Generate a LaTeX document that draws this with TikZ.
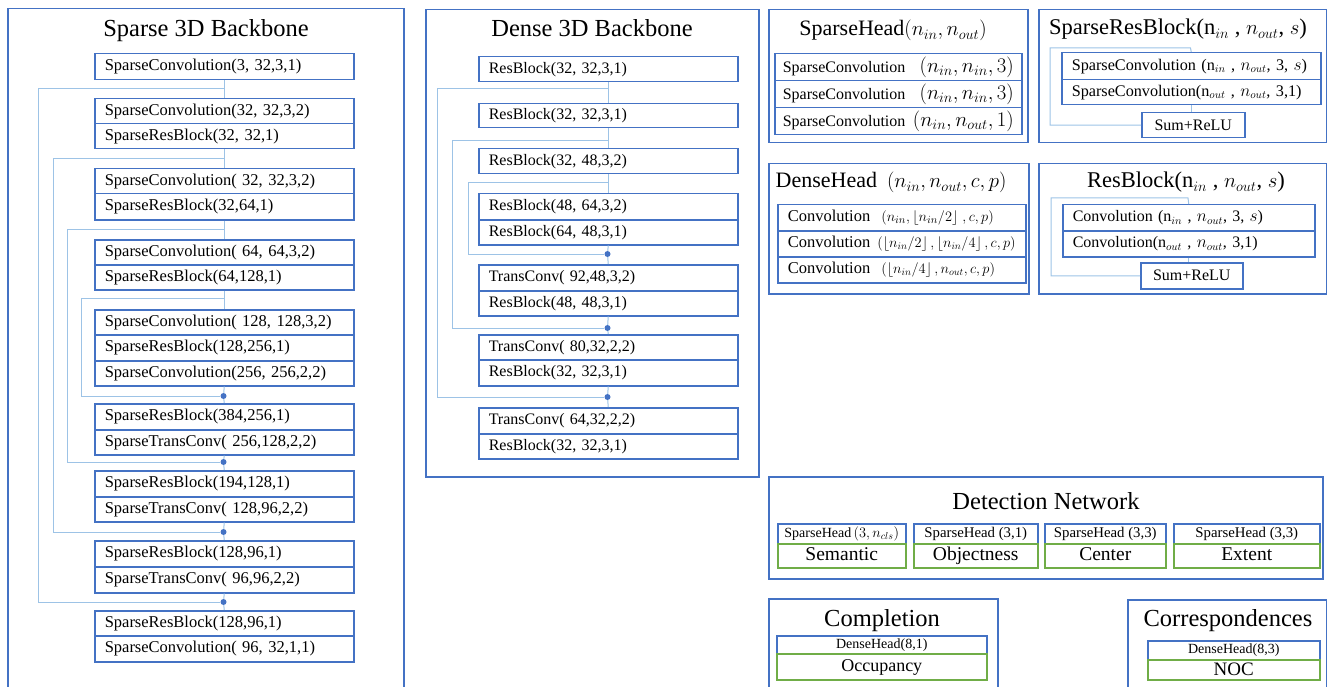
\documentclass[tikz,border=0pt]{standalone}
\usepackage{fontspec}
\setmainfont{Liberation Serif}
\usetikzlibrary{calc}
\definecolor{boxblue}{HTML}{4472C4}
\definecolor{skipblue}{HTML}{9DC3E6}
\definecolor{dotblue}{HTML}{4472C4}
\definecolor{grn}{HTML}{70AD47}
\newcommand{\myfs}[1]{\fontsize{#1}{#1}\selectfont}
\begin{document}
\begin{tikzpicture}[x=1pt,y=-1pt,
  wh/.style 2 args={minimum width=#1, minimum height=#2},
  frame/.style={draw=boxblue, line width=1.5pt, rectangle, anchor=north west, inner sep=0pt},
  title/.style={anchor=base, inner sep=0pt, font=\myfs{24.5}},
  blk/.style={draw=boxblue, line width=1.5pt, rectangle, anchor=north west, inner xsep=10pt, inner ysep=0pt, align=left, minimum height=25pt},
  sblk/.style={blk, text width=239pt, font=\myfs{16.5}},
  dblk/.style={blk, text width=239pt, font=\myfs{16}},
  cblk/.style={draw=boxblue, line width=1.5pt, rectangle, anchor=north west, inner sep=0pt, font=\myfs{16.5}},
  gblk/.style={draw=grn, line width=1.5pt, rectangle, anchor=north west, inner sep=0pt, font=\myfs{19.5}, text height=13pt, text depth=4pt},
  link/.style={draw=skipblue, line width=1pt},
  skip/.style={draw=skipblue, line width=1pt},
  dot/.style={circle, fill=dotblue, inner sep=0pt, minimum size=6pt}
]
\useasboundingbox (0,0) rectangle (1327,687);
\clip (0,0) rectangle (1327,687);

% ---------------- Sparse 3D Backbone ----------------
\node[frame, wh={396pt}{700pt}] (fsp) at (7,8) {};
\node[title] (tsp) at (206,37) {Sparse 3D Backbone};
\node[sblk, minimum height=26pt] (s1) at (94,53) {SparseConvolution(3, 32,3,1)};
\node[sblk] (s2a) at (94,98) {SparseConvolution(32, 32,3,2)};
\node[sblk] (s2b) at (94,123) {SparseResBlock(32, 32,1)};
\node[sblk] (s3a) at (94,168) {SparseConvolution( 32, 32,3,2)};
\node[sblk, minimum height=26pt] (s3b) at (94,193) {SparseResBlock(32,64,1)};
\node[sblk] (s4a) at (94,239) {SparseConvolution( 64, 64,3,2)};
\node[sblk] (s4b) at (94,264) {SparseResBlock(64,128,1)};
\node[sblk] (s5a) at (94,309) {SparseConvolution( 128, 128,3,2)};
\node[sblk, minimum height=26pt] (s5b) at (94,334) {SparseResBlock(128,256,1)};
\node[sblk] (s5c) at (94,360) {SparseConvolution(256, 256,2,2)};
\node[sblk, minimum height=26pt] (s6a) at (94,403) {SparseResBlock(384,256,1)};
\node[sblk] (s6b) at (94,429) {SparseTransConv( 256,128,2,2)};
\node[sblk, minimum height=26pt] (s7a) at (94,470) {SparseResBlock(194,128,1)};
\node[sblk] (s7b) at (94,496) {SparseTransConv( 128,96,2,2)};
\node[sblk, minimum height=26pt] (s8a) at (94,540) {SparseResBlock(128,96,1)};
\node[sblk, minimum height=26pt] (s8b) at (94,566) {SparseTransConv( 96,96,2,2)};
\node[sblk] (s9a) at (94,610) {SparseResBlock(128,96,1)};
\node[sblk, minimum height=26pt] (s9b) at (94,635) {SparseConvolution( 96, 32,1,1)};

\coordinate (sj1) at (223.5,89);
\coordinate (sj2) at (223.5,159);
\coordinate (sj3) at (223.5,229);
\coordinate (sj4) at (223.5,298);
\node[dot] (sd1) at (223.5,396) {};
\node[dot] (sd2) at (223.5,462) {};
\node[dot] (sd3) at (223.5,532) {};
\node[dot] (sd4) at (223.5,602) {};

\draw[link] (s1.south) -- (s2a.north);
\draw[link] (s2b.south) -- (s3a.north);
\draw[link] (s3b.south) -- (s4a.north);
\draw[link] (s4b.south) -- (s5a.north);
\draw[link] (s5c.south) -- (sd1) -- (s6a.north);
\draw[link] (s6b.south) -- (sd2) -- (s7a.north);
\draw[link] (s7b.south) -- (sd3) -- (s8a.north);
\draw[link] (s8b.south) -- (sd4) -- (s9a.north);
\draw[skip] (sj1) -- ++(-185.5,0) |- (sd4);
\draw[skip] (sj2) -- ++(-170.5,0) |- (sd3);
\draw[skip] (sj3) -- ++(-156.5,0) |- (sd2);
\draw[skip] (sj4) -- ++(-142.5,0) |- (sd1);

% ---------------- Dense 3D Backbone ----------------
\node[frame, wh={333pt}{467pt}] (fde) at (425,9) {};
\node[title] (tde) at (592,37) {Dense 3D Backbone};
\node[dblk] (d1) at (478,56) {ResBlock(32, 32,3,1)};
\node[dblk, minimum height=24pt] (d2) at (478,103) {ResBlock(32, 32,3,1)};
\node[dblk] (d3) at (478,148) {ResBlock(32, 48,3,2)};
\node[dblk, minimum height=26pt] (d4a) at (478,193) {ResBlock(48, 64,3,2)};
\node[dblk] (d4b) at (478,219) {ResBlock(64, 48,3,1)};
\node[dblk, minimum height=26pt] (d5a) at (478,264) {TransConv( 92,48,3,2)};
\node[dblk] (d5b) at (478,290) {ResBlock(48, 48,3,1)};
\node[dblk] (d6a) at (478,334) {TransConv( 80,32,2,2)};
\node[dblk, minimum height=26pt] (d6b) at (478,359) {ResBlock(32, 32,3,1)};
\node[dblk, minimum height=26pt] (d7a) at (478,407) {TransConv( 64,32,2,2)};
\node[dblk] (d7b) at (478,433) {ResBlock(32, 32,3,1)};
\coordinate (dj1) at (607.5,89);
\coordinate (dj2) at (607.5,141);
\coordinate (dj3) at (607.5,183);
\node[dot] (dd1) at (607.5,254) {};
\node[dot] (dd2) at (607.5,328) {};
\node[dot] (dd3) at (607.5,397) {};
\draw[link] (d1.south) -- (d2.north);
\draw[link] (d2.south) -- (d3.north);
\draw[link] (d3.south) -- (d4a.north);
\draw[link] (d4b.south) -- (dd1) -- (d5a.north);
\draw[link] (d5b.south) -- (dd2) -- (d6a.north);
\draw[link] (d6b.south) -- (dd3) -- (d7a.north);
\draw[skip] (dj1) -- ++(-170.5,0) |- (dd3);
\draw[skip] (dj2) -- ++(-155.5,0) |- (dd2);
\draw[skip] (dj3) -- ++(-139.5,0) |- (dd1);

% ---------------- SparseHead ----------------
\node[frame, wh={259pt}{133pt}] (fsh) at (768,9) {};
\node[title, font=\myfs{22}] (tsh) at (893,36) {SparseHead{\myfs{21}$(n_{in}, n_{out})$}};
\node[blk, text width=231pt, inner xsep=8pt, minimum height=27pt, font=\myfs{16}] (sh1) at (774,53) {SparseConvolution\hfill{\myfs{20}$(n_{in}, n_{in}, 3)$}};
\node[blk, text width=231pt, inner xsep=8pt, minimum height=27pt, font=\myfs{16}] (sh2) at (774,80) {SparseConvolution\hfill{\myfs{20}$(n_{in}, n_{in}, 3)$}};
\node[blk, text width=231pt, inner xsep=8pt, minimum height=27pt, font=\myfs{16}] (sh3) at (774,107) {SparseConvolution\hfill{\myfs{19.5}$(n_{in}, n_{out}, 1)$}};

% ---------------- SparseResBlock ----------------
\node[frame, wh={288pt}{133pt}] (fsr) at (1038,9) {};
\node[title, font=\myfs{22.5}] (tsr) at (1178,35) {SparseResBlock(n$_{in}$ , $n_{out}$, $s$)};
\node[blk, text width=239pt, minimum height=27pt, font=\myfs{16.2}] (sr1) at (1061,52) {\mbox{SparseConvolution (n$_{in}$ , $n_{out}$, 3, $s$)}};
\node[blk, text width=239pt, minimum height=25pt, font=\myfs{16.2}] (sr2) at (1061,79) {\mbox{SparseConvolution(n$_{out}$ , $n_{out}$, 3,1)}};
\node[cblk, wh={103pt}{25pt}, font=\myfs{16}] (srs) at (1141,112) {Sum+ReLU};
\coordinate (srj) at (1190.5,48);
\draw[skip] (sr1.north) -- (srj) -- ++(-140.5,0) |- (srs.west);
\draw[link] (sr2.south) -- (sr2.south |- srs.north);

% ---------------- DenseHead ----------------
\node[frame, wh={260pt}{130pt}] (fdh) at (768,163) {};
\node[title, font=\myfs{22}] (tdh) at (891,188) {DenseHead\hspace{10pt}{\myfs{20}$(n_{in}, n_{out}, c, p)$}};
\node[blk, text width=228pt, minimum height=26pt, font=\myfs{16.5}] (dh1) at (777,204) {\mbox{Convolution\hspace{11pt}{\myfs{15}$(n_{in}, \lfloor n_{in}/2\rfloor\;, c, p)$}}};
\node[blk, text width=228pt, minimum height=26pt, font=\myfs{16.5}] (dh2) at (777,230) {\mbox{Convolution\hspace{7pt}{\myfs{13.6}$(\lfloor n_{in}/2\rfloor\,, \lfloor n_{in}/4\rfloor\,, c, p)$}}};
\node[blk, text width=228pt, minimum height=26pt, font=\myfs{16.5}] (dh3) at (777,256) {\mbox{Convolution\hspace{11pt}{\myfs{14.8}$(\lfloor n_{in}/4\rfloor\,, n_{out}, c, p)$}}};

% ---------------- ResBlock ----------------
\node[frame, wh={288pt}{130pt}] (frb) at (1038,163) {};
\node[title, font=\myfs{22.5}] (trb) at (1186,188) {ResBlock(n$_{in}$ , $n_{out}$, $s$)};
\node[blk, text width=232pt, minimum height=26pt, font=\myfs{16}] (rb1) at (1062,204) {\mbox{Convolution (n$_{in}$ , $n_{out}$, 3, $s$)}};
\node[blk, text width=232pt, minimum height=26pt, font=\myfs{16}] (rb2) at (1062,230) {\mbox{Convolution(n$_{out}$ , $n_{out}$, 3,1)}};
\node[cblk, wh={102pt}{26pt}, font=\myfs{16}] (rbs) at (1140,262) {Sum+ReLU};
\coordinate (rbj) at (1188,198);
\draw[skip] (rb1.north) -- (rbj) -- ++(-137,0) |- (rbs.west);
\draw[link] (rb2.south) -- (rb2.south |- rbs.north);

% ---------------- Detection Network ----------------
\node[frame, wh={554pt}{102pt}] (fdn) at (768,476) {};
\node[title] (tdn) at (1046,509) {Detection Network};
\node[cblk, wh={128pt}{20pt}, font=\myfs{14}] (db1) at (777,523) {SparseHead\,$(3, n_{cls})$};
\node[cblk, wh={124pt}{20pt}, font=\myfs{14.8}] (db2) at (913,523) {SparseHead (3,1)};
\node[cblk, wh={121pt}{20pt}, font=\myfs{14.8}] (db3) at (1044,523) {SparseHead (3,3)};
\node[cblk, wh={146pt}{20pt}, font=\myfs{14.8}] (db4) at (1173,523) {SparseHead (3,3)};
\node[gblk, wh={128pt}{24pt}] (dg1) at (777,543) {Semantic};
\node[gblk, wh={124pt}{24pt}] (dg2) at (913,543) {Objectness};
\node[gblk, wh={121pt}{24pt}] (dg3) at (1044,543) {Center};
\node[gblk, wh={146pt}{24pt}] (dg4) at (1173,543) {Extent};

% ---------------- Completion ----------------
\node[frame, wh={229pt}{100pt}] (fco) at (768,598) {};
\node[title] (tco) at (882,626) {Completion};
\node[cblk, wh={210pt}{18pt}, font=\myfs{14}] (cb) at (776,635) {DenseHead(8,1)};
\node[gblk, wh={210pt}{26pt}, font=\myfs{18}] (cg) at (776,653) {Occupancy};

% ---------------- Correspondences ----------------
\node[frame, wh={199pt}{100pt}] (fcr) at (1127,599) {};
\node[title] (tcr) at (1228,626) {Correspondences};
\node[cblk, wh={172pt}{19pt}, font=\myfs{14}] (crb) at (1147,640) {DenseHead(8,3)};
\node[gblk, wh={172pt}{20pt}, font=\myfs{19}, text height=12.5pt, text depth=1pt] (crg) at (1147,659) {NOC};
\end{tikzpicture}
\end{document}
